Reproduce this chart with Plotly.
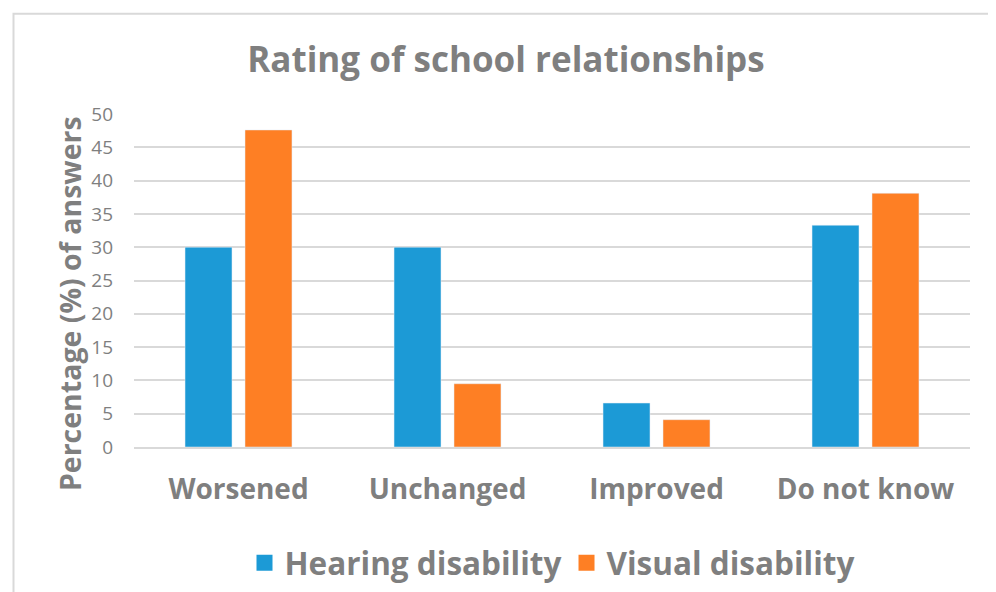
import plotly.graph_objects as go

categories = ["Worsened", "Unchanged", "Improved", "Do not know"]
hearing = [30.0, 30.0, 6.6, 33.3]
visual = [47.6, 9.5, 4.1, 38.1]
y_ticks = [0, 5, 10, 15, 20, 25, 30, 35, 40, 45, 50]

BLUE = "#1c9ad6"
ORANGE = "#fe7f24"
GREY = "#7f7f7f"
FONT = "'Open Sans', Lato, sans-serif"

fig = go.Figure()
fig.add_trace(go.Bar(x=categories, y=hearing, name="Hearing disability",
                     marker=dict(color=BLUE), showlegend=False))
fig.add_trace(go.Bar(x=categories, y=visual, name="Visual disability",
                     marker=dict(color=ORANGE), showlegend=False))

# legend entries with bigger square swatches
for name, color in [("Hearing disability", BLUE), ("Visual disability", ORANGE)]:
    fig.add_trace(go.Scatter(x=[None], y=[None], mode="markers", name=f"<b>{name}</b>",
                             marker=dict(symbol="square", size=16, color=color)))

# page body has an 8px margin, so the figure is 8px smaller
fig.update_layout(
    width=988, height=584,
    paper_bgcolor="white", plot_bgcolor="white",
    margin=dict(l=126, r=26, t=105.5, b=145, autoexpand=False),
    barmode="group", bargap=0.426, bargroupgap=0.217,
    font=dict(family=FONT, color=GREY),
    title=dict(text="<b>Rating of school relationships</b>", x=0.504, xanchor="center",
               y=0.911, yanchor="middle", font=dict(size=35, color=GREY)),
    xaxis=dict(showgrid=False, showline=True, linecolor="#d9d9d9", linewidth=2,
               tickfont=dict(size=28, color=GREY), ticklabelstandoff=16,
               ticks="", tickprefix="<b>", ticksuffix="</b>"),
    yaxis=dict(range=[0, 50], tickvals=y_ticks, showgrid=True, gridcolor="#d9d9d9",
               gridwidth=2, zeroline=False, tickfont=dict(size=19, color=GREY),
               ticklabelstandoff=20),
    legend=dict(orientation="h", x=0.5, xanchor="center", y=-0.348, yanchor="middle",
                font=dict(size=31.5, color=GREY), itemwidth=30,
                traceorder="normal"),
    shapes=[dict(type="rect", xref="paper", yref="paper",
                 x0=(5.5 - 126) / 836, x1=1.2, y0=-1, y1=(439 - 5) / 333.5,
                 line=dict(color="#d9d9d9", width=2), layer="below")],
    annotations=[dict(text="<b>Percentage (%) of answers</b>", textangle=-90,
                      xref="paper", yref="paper", x=-0.0766, y=0.432,
                      xanchor="center", yanchor="middle", showarrow=False,
                      font=dict(size=28.5, color=GREY))],
)

fig.write_html("out.html")
